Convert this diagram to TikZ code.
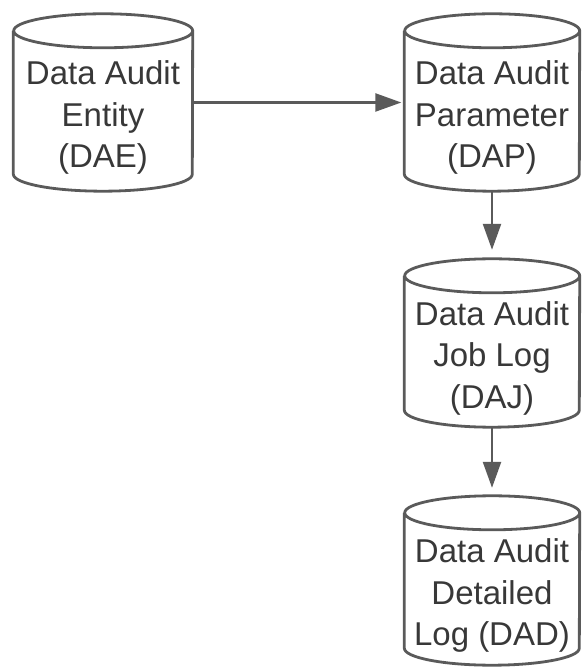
\documentclass[tikz,border=0pt]{standalone}
\usepackage{fontspec}
\setmainfont{Liberation Sans}
\usetikzlibrary{arrows.meta}

\definecolor{linegray}{HTML}{5A5A5A}
\definecolor{textgray}{HTML}{383838}

\begin{document}
\begin{tikzpicture}[x=1pt, y=1pt,
  store/.style={rectangle, draw=none, inner sep=0pt, minimum width=#1, minimum height=177pt},
  store/.default=175pt,
  storeline/.style={draw=linegray, line width=2.8pt, line join=round},
  storetext/.style={align=center, text=textgray, font=\fontsize{33}{41.5}\selectfont},
  flow/.style={draw=linegray, line width=2.4pt, -{Triangle[length=26pt, width=18pt]}}]
\useasboundingbox (0,0) rectangle (582,668);

\def\capr{17}
\def\dropy{-15pt}

\node[store=179pt] (dae) at (103,565.5) {};
\node[store] (dap) at (492,565.5) {};
\node[store, minimum height=168pt] (daj) at (492,325) {};
\node[store, minimum height=169pt] (dad) at (492,87.5) {};

% cylinder outlines
\foreach \n/\r in {dae/89.5, dap/87.5, daj/87.5, dad/87.5} {
  \draw[storeline] ([yshift=-\capr pt]\n.north west) -- ([yshift=\capr pt]\n.south west)
    arc[start angle=180, end angle=360, x radius=\r pt, y radius=\capr pt]
    -- ([yshift=-\capr pt]\n.north east)
    arc[start angle=0, end angle=180, x radius=\r pt, y radius=\capr pt]
    arc[start angle=180, end angle=360, x radius=\r pt, y radius=\capr pt];
}

\node[storetext] (daelabel) at ([yshift=\dropy]dae.center) {Data Audit\\Entity\\(DAE)};
\node[storetext] (daplabel) at ([yshift=\dropy]dap.center) {Data Audit\\Parameter\\(DAP)};
\node[storetext] (dajlabel) at ([yshift=\dropy]daj.center) {Data Audit\\Job Log\\(DAJ)};
\node[storetext] (dadlabel) at ([yshift=\dropy]dad.center) {Data Audit\\Detailed\\Log (DAD)};

\draw[flow, shorten >=3pt] (dae) -- (dap);
\draw[flow, shorten >=9pt] (dap) -- (daj);
\draw[flow, shorten >=8pt] (daj) -- (dad);
\end{tikzpicture}
\end{document}
